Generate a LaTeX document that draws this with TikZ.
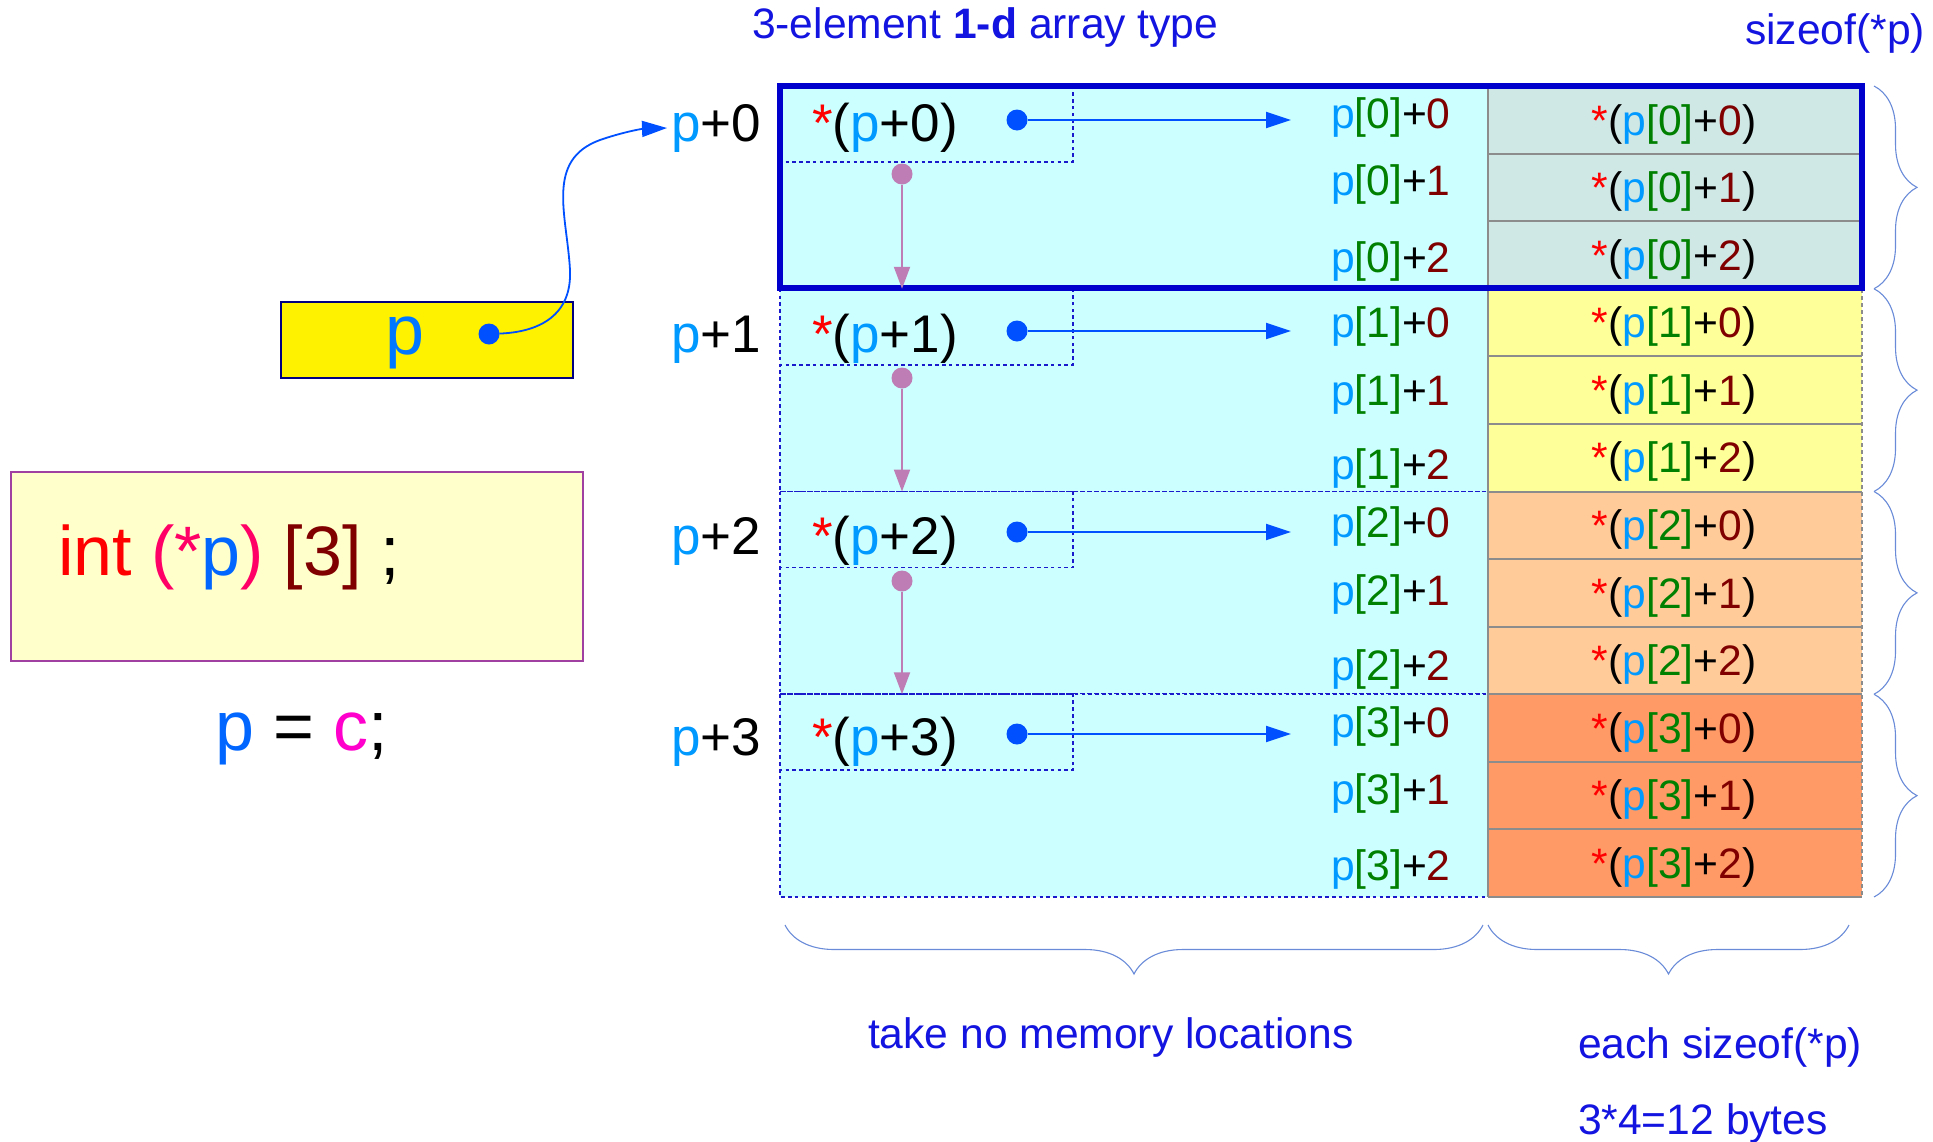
\documentclass[tikz,border=0pt]{standalone}
\usepackage{fontspec}
\setmainfont{Liberation Sans}
\usetikzlibrary{arrows.meta,decorations.pathreplacing,calc}
\definecolor{cyanfill}{HTML}{CCFFFF}
\definecolor{dotblue}{HTML}{1A1ACC}
\definecolor{thickblue}{HTML}{0000CC}
\definecolor{teal0}{HTML}{CFE7E5}
\definecolor{yel1}{HTML}{FFFF99}
\definecolor{peach2}{HTML}{FFCC99}
\definecolor{orange3}{HTML}{FF9966}
\definecolor{pblue}{HTML}{0099FF}
\definecolor{bgreen}{HTML}{008000}
\definecolor{dred}{HTML}{800000}
\definecolor{arrblue}{HTML}{0050FF}
\definecolor{purp}{HTML}{BE7DB4}
\definecolor{bracec}{HTML}{6A8BD8}
\definecolor{titleblue}{HTML}{1414E0}
\definecolor{codefill}{HTML}{FFFFCC}
\definecolor{codeborder}{HTML}{A040A0}
\definecolor{ptrblue}{HTML}{0066FF}
\definecolor{boxp}{HTML}{0077FF}
\definecolor{pinkred}{HTML}{FF0066}
\definecolor{magc}{HTML}{FF00CC}
\definecolor{navyc}{HTML}{000080}
\definecolor{sepgray}{HTML}{8C8C8C}
\begin{document}
\begin{tikzpicture}[x=0.5pt,y=-0.5pt,
  every node/.style={inner sep=0pt, outer sep=0pt},
  fbig/.style={font=\fontsize{35}{42}\selectfont},
  fmid/.style={font=\fontsize{26.5}{32}\selectfont},
  fsml/.style={font=\fontsize{21.3}{25}\selectfont},
  dotbox/.style={draw=dotblue, line width=0.9pt, dash pattern=on 1.8pt off 1.6pt},
  sepline/.style={draw=sepgray, line width=1pt},
  pdot/.style={circle, fill=#1, minimum size=10.5pt, inner sep=0pt},
  barr/.style={draw=arrblue, line width=1pt, -{Triangle[length=12.5pt,width=8pt]}},
  parr/.style={draw=purp, line width=1pt, -{Triangle[length=11pt,width=8pt]}},
  bracestyle/.style={draw=bracec, line width=0.55pt, decorate, decoration={brace, amplitude=#1}},
]
\useasboundingbox (0,0) rectangle (1933,1141);

% cyan blocks
\foreach \k in {0,1,2,3}{
  \pgfmathsetmacro{\T}{86+202.75*\k}
  \pgfmathsetmacro{\B}{\T+202.75}
  \fill[cyanfill] (780,\T) rectangle (1488,\B);
  \draw[dotbox] (780,\T) rectangle (1488,\B);
  \draw[dotbox] (780,\T) rectangle (1073,\T+76);
}

% coloured cells
\foreach \k/\col in {0/teal0,1/yel1,2/peach2,3/orange3}{
  \foreach \j in {0,1,2}{
    \pgfmathsetmacro{\T}{86+202.75*\k+67.583*\j}
    \fill[\col] (1488,\T) rectangle (1862,\T+67.583);
    \node[fsml] (c\k\j) at (1674,\T+38) {\textcolor{red}{*}(\textcolor{pblue}{p}\textcolor{bgreen}{[\k]}+\textcolor{dred}{\j})};
  }
}
\foreach \i in {0,...,12}{
  \draw[sepline] (1488,86+67.583*\i) -- (1862,86+67.583*\i);
}
\draw[sepline] (1488,86) -- (1488,897);
\draw[sepline, dash pattern=on 2pt off 1.5pt] (1862,86) -- (1862,897);

% p[k]+j labels
\foreach \k/\ba/\bb/\bc in {0/128/195.5/272,1/337/405/479,2/537/605/680,3/737/804/880}{
  \node[fsml, anchor=base west] (l\k0) at (1331,\ba) {\textcolor{pblue}{p}\textcolor{bgreen}{[\k]}+\textcolor{dred}{0}};
  \node[fsml, anchor=base west] (l\k1) at (1331,\bb) {\textcolor{pblue}{p}\textcolor{bgreen}{[\k]}+\textcolor{dred}{1}};
  \node[fsml, anchor=base west] (l\k2) at (1331,\bc) {\textcolor{pblue}{p}\textcolor{bgreen}{[\k]}+\textcolor{dred}{2}};
}

% thick box
\draw[thickblue, line width=3pt] (780,86) rectangle (1862,288);

% rows
\foreach \k/\bl/\dy in {0/141/120,1/352/331,2/554/532,3/755/734}{
  \node[fmid, anchor=base west] (plab\k) at (671,\bl) {\textcolor{pblue}{p}+\k};
  \node[fmid, anchor=base west] (deref\k) at (812,\bl) {\textcolor{red}{*}(\textcolor{pblue}{p}+\k)};
  \node[pdot=arrblue] (bd\k) at (1017,\dy) {};
  \coordinate (bt\k) at (1291,\dy);
  \draw[barr] (bd\k) -- (bt\k);
}

% purple arrows
\foreach \k/\y in {0/174,1/378,2/581}{
  \pgfmathsetmacro{\N}{86+202.75*(\k+1)}
  \node[pdot=purp] (pd\k) at (902,\y) {};
  \coordinate (ptip\k) at (902,\N);
  \draw[parr] (pd\k) -- (ptip\k);
}

% pointer box
\draw[navyc, fill=yellow, line width=1pt] (281,302) rectangle (573,378);
\node[fbig, anchor=base west, text=boxp] (ptext) at (385,354) {p};
\node[pdot=arrblue] (pdotnode) at (489,334) {};
\draw[arrblue, line width=0.9pt, -{Triangle[length=12.5pt,width=8pt]}]
  (pdotnode) .. controls (540,332) and (572,315) .. (570,270)
  .. controls (567,215) and (545,160) .. (600,140)
  .. controls (620,133) and (640,129) .. ([xshift=-2pt,yshift=0pt]plab0.west);

% code box
\draw[codeborder, fill=codefill, line width=0.8pt] (11,472) rectangle (583,661);
\node[fbig, anchor=base west] (decl) at (58,575) {\textcolor{red}{int} \textcolor{pinkred}{(*}\textcolor{ptrblue}{p}\textcolor{pinkred}{)} \textcolor{dred}{[3]} ;};
\node[fbig, anchor=base west] (assign) at (215,750) {\textcolor{ptrblue}{p} = \textcolor{magc}{c};};

% titles and notes
\node[fsml, anchor=base west, text=titleblue] (title) at (752,38.5) {3-element \textbf{1-d} array type};
\node[fsml, anchor=base east, text=titleblue] (sizeoft) at (1925,44) {sizeof(*p)};
\node[fsml, anchor=base west, text=titleblue] (nomem) at (868,1048) {take no memory locations};
\node[fsml, anchor=base west, text=titleblue] (each) at (1578,1058) {each sizeof(*p)};
\node[fsml, anchor=base west, text=titleblue] (bytes) at (1578,1134) {3*4=12 bytes};

% braces
\foreach \k in {0,1,2,3}{
  \pgfmathsetmacro{\T}{86+202.75*\k}
  \pgfmathsetmacro{\B}{\T+202.75}
  \coordinate (rbt\k) at (1874,\T);
  \coordinate (rbb\k) at (1874,\B);
  \draw[bracestyle=21.5pt] (rbt\k) -- (rbb\k);
}
\coordinate (bl1) at (1483,925);
\coordinate (bl0) at (785,925);
\draw[bracestyle=24.5pt] (bl1) -- (bl0);
\coordinate (br1) at (1849,925);
\coordinate (br0) at (1488,925);
\draw[bracestyle=24.5pt] (br1) -- (br0);
\end{tikzpicture}
\end{document}
